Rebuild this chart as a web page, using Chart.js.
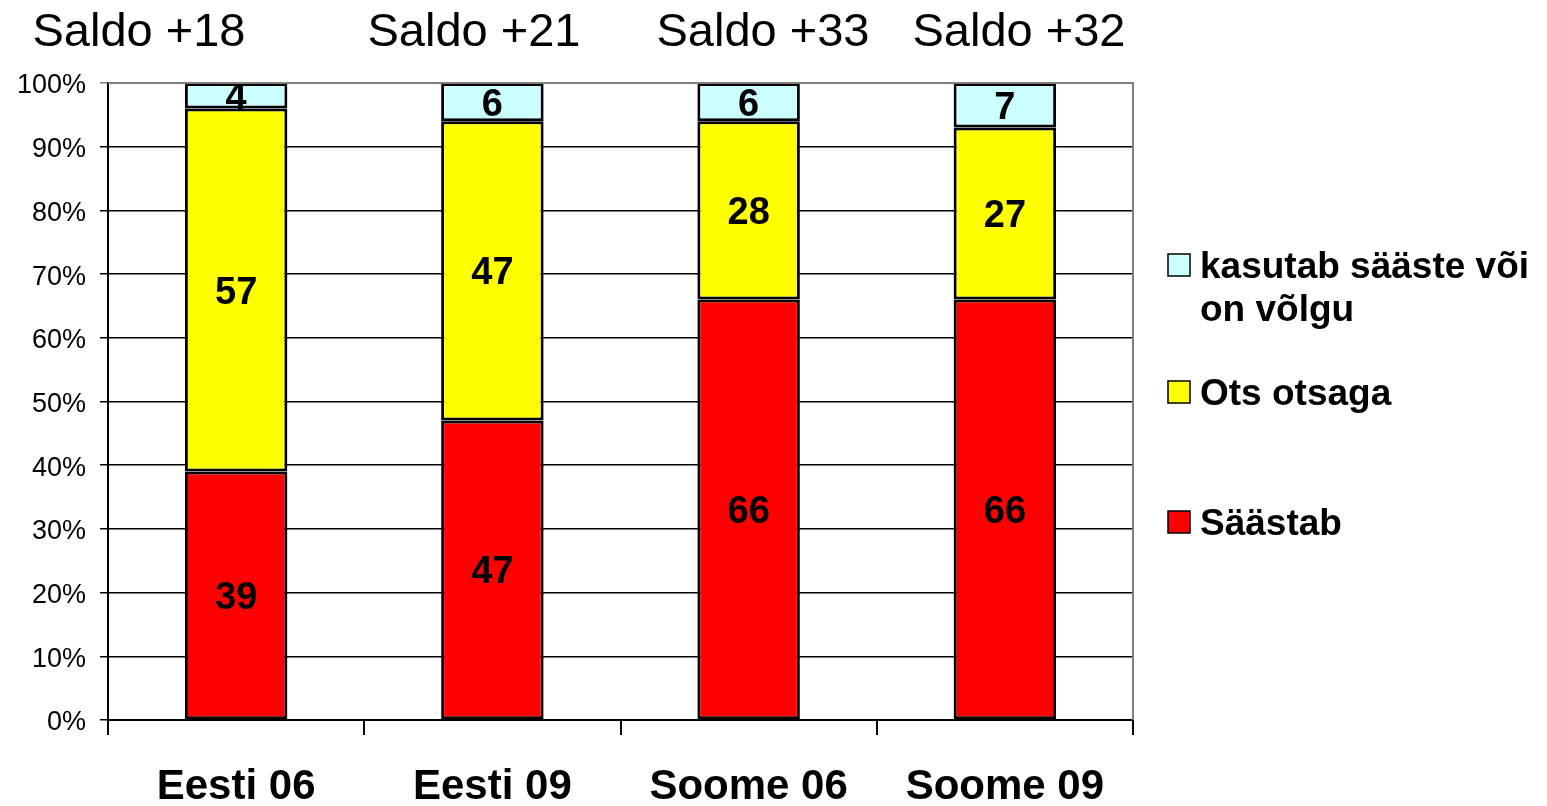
<!DOCTYPE html>
<html>
<head>
<meta charset="utf-8">
<script src="https://cdn.jsdelivr.net/npm/chart.js@4"></script>
<style>
  html, body { margin: 0; padding: 0; background: #fff; }
  #wrap { width: 1547px; height: 806px; }
</style>
</head>
<body>
<div id="wrap"><canvas id="saldoChart" width="1547" height="806"></canvas></div>
<script>
Chart.defaults.font.family = '"Liberation Sans", Arial, sans-serif'
Chart.defaults.color = '#000'

const kategooriad = ['Eesti 06', 'Eesti 09', 'Soome 06', 'Soome 09']
const saastab = [39, 47, 66, 66]
const otsOtsaga = [57, 47, 28, 27]
const kasutabSaaste = [4, 6, 6, 7]
const saldod = ['Saldo +18', 'Saldo +21', 'Saldo +33', 'Saldo +32']
const yTicks = [0, 10, 20, 30, 40, 50, 60, 70, 80, 90, 100]

// saldo texts sit a bit off the bars in the original
const saldoX = [139, 474, 763, 1019]

const vaartusedPlugin = {
    id: 'vaartused',
    afterDatasetsDraw(chart) {
        const ctx = chart.ctx
        ctx.save()
        ctx.font = 'bold 38px "Liberation Sans", Arial, sans-serif'
        ctx.fillStyle = '#000'
        ctx.textAlign = 'center'
        ctx.textBaseline = 'middle'
        chart.data.datasets.forEach((ds, i) => {
            chart.getDatasetMeta(i).data.forEach((bar, j) => {
                const p = bar.getProps(['x', 'y', 'base'], true)
                ctx.fillText(ds.data[j], p.x, (p.y + p.base) / 2 + 3)
            })
        })
        ctx.restore()
    }
}

const raamPlugin = {
    id: 'raam',
    afterDraw(chart) {
        const ctx = chart.ctx
        const a = chart.chartArea
        ctx.save()
        ctx.strokeStyle = '#808080'
        ctx.lineWidth = 2
        ctx.beginPath()
        ctx.moveTo(a.left, a.top)
        ctx.lineTo(a.right, a.top)
        ctx.lineTo(a.right, a.bottom)
        ctx.stroke()

        // saldo tekstid
        ctx.font = '47px "Liberation Sans", Arial, sans-serif'
        ctx.fillStyle = '#000'
        ctx.textAlign = 'center'
        ctx.textBaseline = 'alphabetic'
        saldod.forEach((s, i) => ctx.fillText(s, saldoX[i], 46))

        // legend
        const legendY = [522, 392, 265]
        ctx.font = 'bold 37px "Liberation Sans", Arial, sans-serif'
        ctx.textAlign = 'left'
        ctx.textBaseline = 'middle'
        chart.data.datasets.forEach((ds, i) => {
            const y = legendY[i]
            ctx.fillStyle = ds.backgroundColor
            ctx.fillRect(1168, y - 11, 22, 22)
            ctx.strokeStyle = '#000'
            ctx.lineWidth = 1.5
            ctx.strokeRect(1168, y - 11, 22, 22)
            ctx.fillStyle = '#000'
            const rows = Array.isArray(ds.label) ? ds.label : [ds.label]
            rows.forEach((r, k) => ctx.fillText(r, 1200, y + 3 + k * 43))
        })
        ctx.restore()
    }
}

const data = {
    labels: kategooriad,
    datasets: [
        { label: 'Säästab', data: saastab, backgroundColor: '#FF0000' },
        { label: 'Ots otsaga', data: otsOtsaga, backgroundColor: '#FFFF00' },
        { label: ['kasutab sääste või', 'on võlgu'], data: kasutabSaaste, backgroundColor: '#CCFFFF' }
    ].map(d => Object.assign(d, {
        borderColor: '#000',
        borderWidth: 3,
        borderSkipped: false,
        barPercentage: 0.4,
        categoryPercentage: 1
    }))
}

const options = {
    responsive: false,
    animation: false,
    layout: { padding: { top: 83, right: 414, left: 0, bottom: 0 } },
    plugins: {
        legend: { display: false },
        tooltip: { enabled: false }
    },
    scales: {
        x: {
            stacked: true,
            afterFit: s => { s.height = 86 },
            grid: { offset: true, drawOnChartArea: false, drawTicks: true, tickLength: 15, color: '#000', lineWidth: 2 },
            border: { color: '#000', width: 2 },
            ticks: { font: { size: 42, weight: 'bold' }, color: '#000', padding: 27 }
        },
        y: {
            stacked: true,
            min: 0,
            max: 100,
            afterFit: s => { s.width = 108 },
            afterBuildTicks: s => { s.ticks = yTicks.map(v => ({ value: v })) },
            grid: {
                color: c => c.tick && c.tick.value === 100 ? '#808080' : '#000',
                lineWidth: 1.5,
                tickLength: 8
            },
            border: { color: '#000', width: 2 },
            ticks: { font: { size: 27 }, color: '#000', padding: 14, labelOffset: 3, callback: v => v + '%' }
        }
    }
}

new Chart('saldoChart', { type: 'bar', data, options, plugins: [vaartusedPlugin, raamPlugin] })
</script>
</body>
</html>
